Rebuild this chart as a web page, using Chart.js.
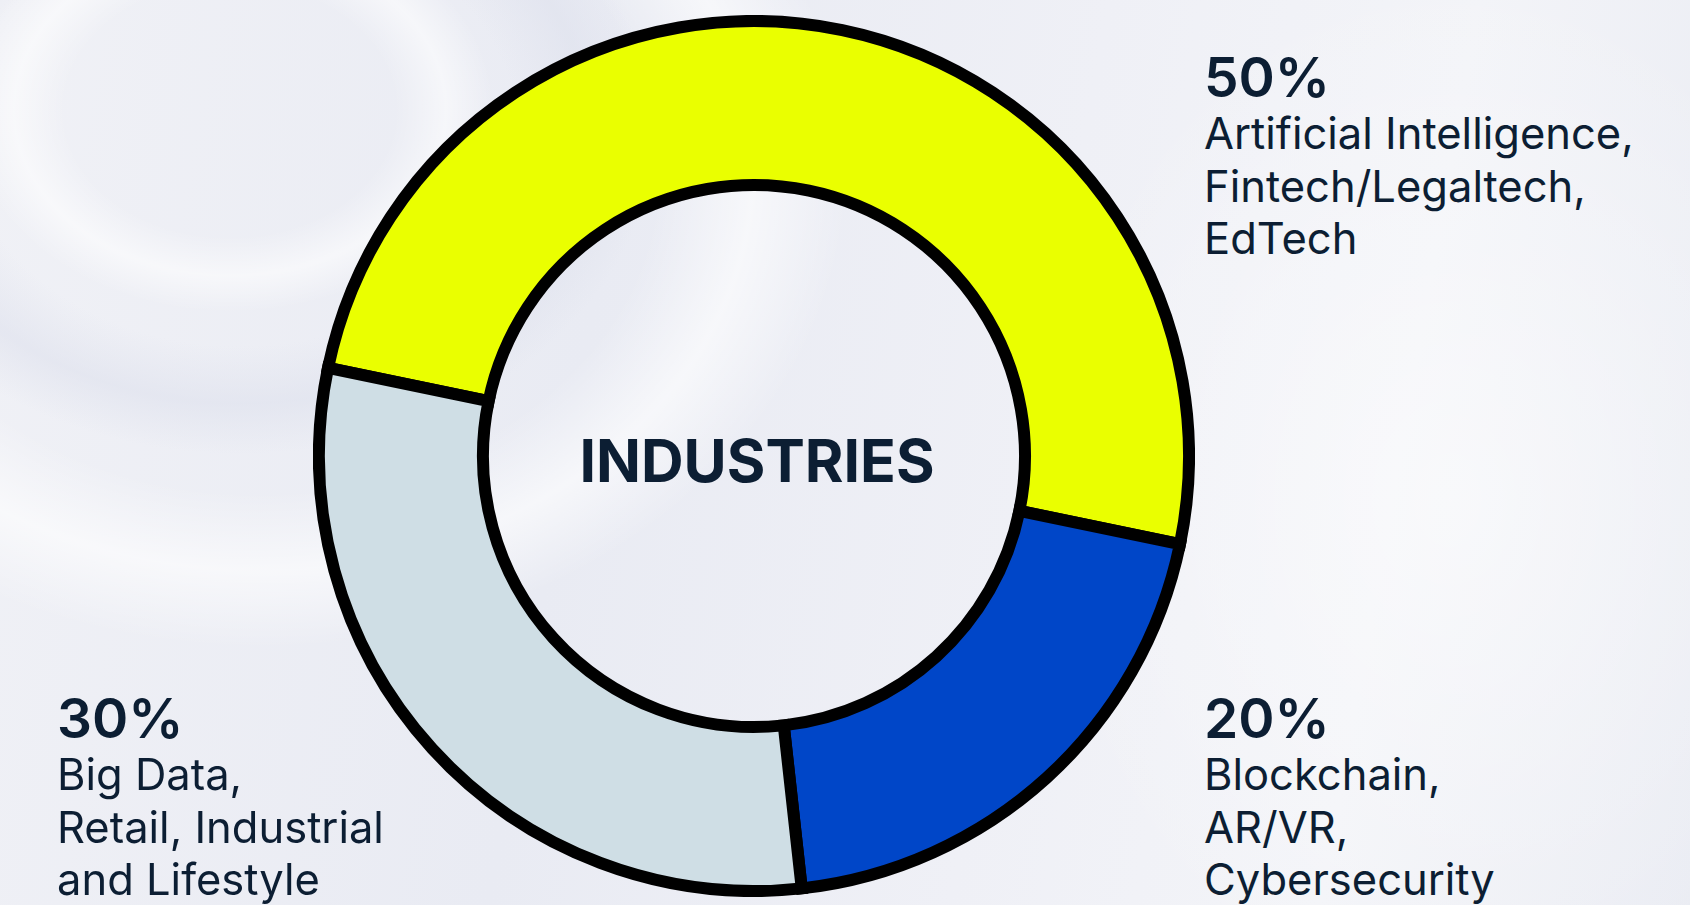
<!DOCTYPE html>
<html>
<head>
<meta charset="utf-8">
<script src="https://cdn.jsdelivr.net/npm/chart.js@4"></script>
<style>
  html, body { margin: 0; padding: 0; }
  body {
    width: 1690px; height: 905px; overflow: hidden; position: relative;
    font-family: Inter, "Noto Sans", sans-serif; color: #0c1e33;
    background:
      radial-gradient(ellipse 300px 230px at 230px 110px, rgba(255,255,255,0) 55%, rgba(255,255,255,0.55) 72%, rgba(255,255,255,0) 88%),
      radial-gradient(ellipse 460px 360px at 240px 130px, rgba(222,225,237,0) 60%, rgba(222,225,237,0.6) 76%, rgba(222,225,237,0) 90%),
      radial-gradient(ellipse 640px 520px at 260px 170px, rgba(255,255,255,0) 62%, rgba(255,255,255,0.6) 77%, rgba(255,255,255,0) 92%),
      radial-gradient(ellipse 700px 900px at 1450px 500px, rgba(255,255,255,0.5) 0%, rgba(255,255,255,0) 60%),
      linear-gradient(100deg, #f0f1f6 0%, #e9ebf3 35%, #eff0f6 60%, #f3f4f8 80%, #eaecf3 100%);
  }
  #wrap { position: absolute; left: 313px; top: 15px; width: 882px; height: 882px; }
  .block { position: absolute; }
  .pct { font-size: 55px; line-height: 57px; font-weight: 600; }
  .lbl { font-size: 43.5px; line-height: 52.5px; font-weight: 400; margin-top: 1px; white-space: nowrap; }
  #center { position: absolute; left: 0; width: 1514px; top: 428px; text-align: center;
    font-size: 59px; line-height: 66px; font-weight: 700; }
</style>
</head>
<body>
<div id="wrap"><canvas id="industries"></canvas></div>
<div id="center">INDUSTRIES</div>
<div id="labels"></div>
<script>
const centerTitle = 'INDUSTRIES';
const shares = [50, 20, 30];
const shareLabels = ['50%', '20%', '30%'];
const categories = [
  ['Artificial Intelligence,', 'Fintech/Legaltech,', 'EdTech'],
  ['Blockchain,', 'AR/VR,', 'Cybersecurity'],
  ['Big Data,', 'Retail, Industrial', 'and Lifestyle'],
];
const colors = ['#eaff00', '#0046c8', '#cfdee5'];

// where each text block sits on the page
const blockPos = [
  { left: 1204, top: 49 },
  { left: 1204, top: 690 },
  { left: 57, top: 690 },
];

document.getElementById('center').textContent = centerTitle;
const labelsEl = document.getElementById('labels');
categories.forEach((lines, i) => {
  const div = document.createElement('div');
  div.className = 'block';
  div.style.left = blockPos[i].left + 'px';
  div.style.top = blockPos[i].top + 'px';
  div.innerHTML = `<div class="pct">${shareLabels[i]}</div>` +
    `<div class="lbl">${lines.join('<br>')}</div>`;
  labelsEl.appendChild(div);
});

new Chart(document.getElementById('industries'), {
  type: 'doughnut',
  data: {
    labels: categories.map(c => c.join(' ')),
    datasets: [{
      data: shares,
      backgroundColor: colors,
      borderColor: '#000000',
      borderWidth: 12,
      borderJoinStyle: 'miter',
    }],
  },
  options: {
    responsive: true,
    maintainAspectRatio: false,
    animation: false,
    events: [],
    cutout: '62.3%',
    rotation: -78.3,
    layout: { padding: 0 },
    plugins: { legend: { display: false }, tooltip: { enabled: false } },
  },
});
</script>
</body>
</html>
